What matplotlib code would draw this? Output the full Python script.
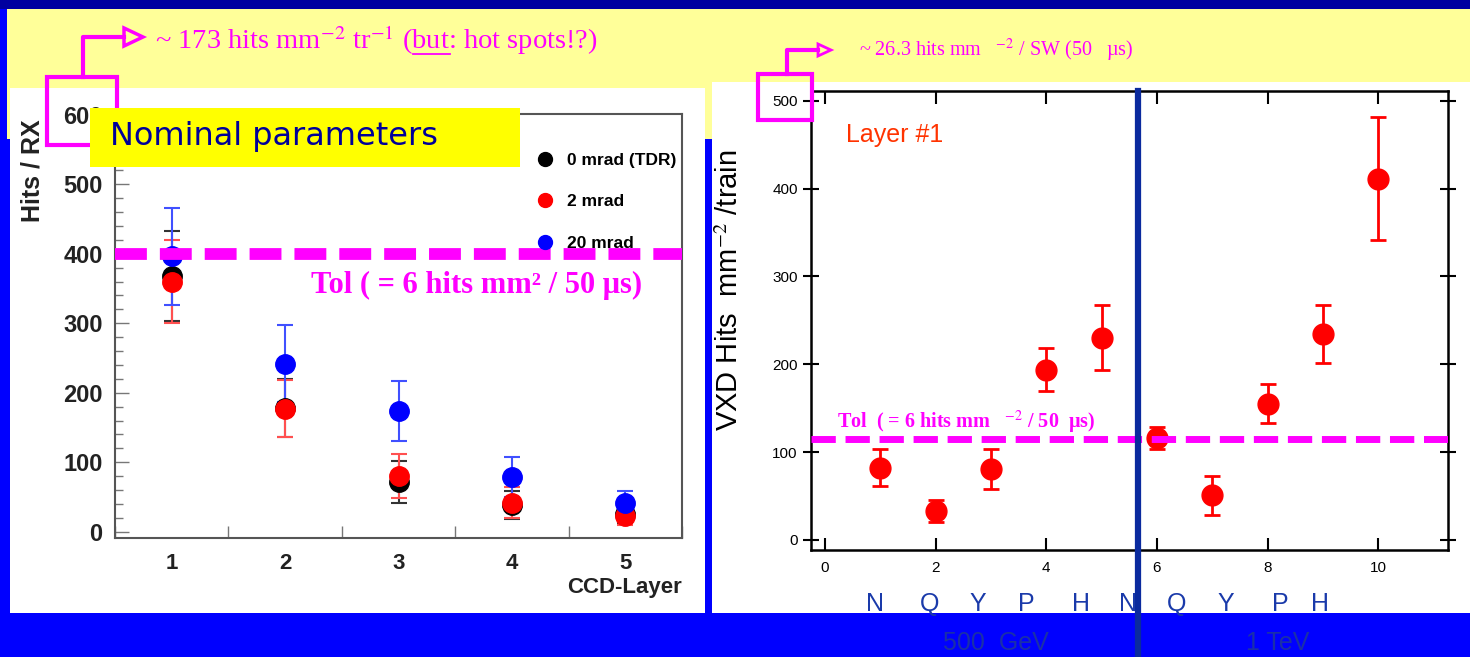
import matplotlib
matplotlib.use('Agg')
import matplotlib.pyplot as plt
from matplotlib.patches import Rectangle, Polygon
from matplotlib.lines import Line2D
from matplotlib.ticker import MultipleLocator

plt.rcParams['mathtext.fontset'] = 'stix'

# left chart: hits per readout vs CCD layer
ccd_layer = [1, 2, 3, 4, 5]
hits_0mrad = [368, 178, 72, 38, 26]
err_0mrad = [65, 42, 30, 20, 14]
hits_2mrad = [360, 177, 80, 42, 22]
err_2mrad = [60, 41, 32, 22, 13]
hits_20mrad = [396, 242, 174, 79, 42]
err_20mrad = [70, 55, 43, 29, 17]
series_labels = ['0 mrad (TDR)', '2 mrad', '20 mrad']
tol_left = 400

# right chart: layer 1 hits per train for the beam parameter sets
config_x = [1, 2, 3, 4, 5, 6, 7, 8, 9, 10]
vxd_hits = [82, 33, 81, 194, 230, 116, 51, 155, 234, 411]
vxd_err = [21, 13, 23, 24, 37, 13, 22, 22, 33, 70]
config_labels = ['N', 'Q', 'Y', 'P', 'H', 'N', 'Q', 'Y', 'P', 'H']
energy_labels = ['500  GeV', '1 TeV']
tol_right = 115
divider_x = 5.65

W, H = 1470, 657
MAG = '#FF00FF'
SANS = ['Liberation Sans', 'DejaVu Sans']
SERIF = ['Liberation Serif', 'DejaVu Serif']

fig = plt.figure(figsize=(14.7, 6.57), dpi=100, facecolor='#0000FF')


def rect(x, y, w, h, **kw):
    # figure rectangle given in pixels, y measured from the top
    fig.add_artist(Rectangle((x / W, 1 - (y + h) / H), w / W, h / H,
                             transform=fig.transFigure, **kw))


def ftext(x, y, s, **kw):
    return fig.text(x / W, 1 - y / H, s, **kw)


def fline(pts, **kw):
    fig.add_artist(Line2D([p[0] / W for p in pts], [1 - p[1] / H for p in pts],
                          transform=fig.transFigure, **kw))


# slide background
rect(0, 0, W, 9, facecolor='#0000A0', edgecolor='none', zorder=-2)
rect(7, 9, W - 7, 130, facecolor='#FFFF99', edgecolor='none', zorder=-2)
rect(10, 88, 695, 525, facecolor='white', edgecolor='none', zorder=-1)
rect(712, 82, W - 712, 531, facecolor='white', edgecolor='none', zorder=-1)

# ---------------- left chart ----------------
ax1 = fig.add_axes([115 / W, 1 - 538 / H, 567 / W, 424 / H])
ax1.set_facecolor('white')
ax1.errorbar(ccd_layer, hits_0mrad, yerr=err_0mrad, fmt='o', color='black', ms=14,
             ecolor='#333333', elinewidth=1.5, capsize=6, capthick=1.5, zorder=3)
ax1.errorbar(ccd_layer, hits_2mrad, yerr=err_2mrad, fmt='o', color='#FF0000', ms=14,
             ecolor='#FF5050', elinewidth=1.5, capsize=6, capthick=1.5, zorder=3)
ax1.errorbar(ccd_layer, hits_20mrad, yerr=err_20mrad, fmt='o', color='#0000FF', ms=14,
             ecolor='#4050FF', elinewidth=1.5, capsize=6, capthick=1.5, zorder=3)
ax1.axhline(tol_left, color=MAG, lw=8.5, dashes=(2.7, 1.1), zorder=4)
ax1.set_xlim(0.5, 5.5)
ax1.set_ylim(-9, 601)
ax1.set_xticks(ccd_layer)
ax1.xaxis.set_minor_locator(MultipleLocator(0.5))
ax1.yaxis.set_major_locator(MultipleLocator(100))
ax1.yaxis.set_minor_locator(MultipleLocator(20))
ax1.tick_params(axis='x', which='major', length=0, pad=11, labelsize=16)
ax1.tick_params(axis='x', which='minor', direction='in', length=9, width=1, color='#777777')
ax1.tick_params(axis='y', which='major', direction='in', length=10, width=1, color='#777777',
                pad=9, labelsize=17)
ax1.tick_params(axis='y', which='minor', direction='in', length=6, width=1, color='#777777')
for lab in ax1.get_xticklabels() + ax1.get_yticklabels():
    lab.set_fontweight('bold')
    lab.set_family(SANS)
    lab.set_color('#222222')
for sp in ax1.spines.values():
    sp.set_color('#555555')
    sp.set_linewidth(1.5)
ax1.set_xlabel('CCD-Layer', loc='right', fontsize=16, fontweight='bold', family=SANS,
               color='#222222', labelpad=2)
ax1.set_ylabel('Hits / RX', fontsize=18, fontweight='bold', family=SANS, color='#222222')
ax1.yaxis.set_label_coords(-0.125, 0.866)
handles = [Line2D([], [], ls='', marker='o', ms=10, color=c) for c in ['black', '#FF0000', '#0000FF']]
ax1.legend(handles, series_labels, loc='upper right', bbox_to_anchor=(1.0, 0.92), frameon=False,
           prop={'family': SANS, 'weight': 'bold', 'size': 12.5}, labelspacing=1.5,
           handlelength=1.0, handletextpad=0.8, borderpad=0, borderaxespad=0.3)
ax1.text(3.69, 355, 'Tol ( = 6 hits mm² / 50 μs)', ha='center', va='center', color=MAG,
         fontsize=22, fontweight='bold', family=SERIF, zorder=5)

# ---------------- right chart ----------------
ax2 = fig.add_axes([811 / W, 1 - 550 / H, 637 / W, 459 / H])
ax2.set_facecolor('white')
ax2.errorbar(config_x, vxd_hits, yerr=vxd_err, fmt='o', color='#FF0000', ms=15,
             elinewidth=2, capsize=6, capthick=2, zorder=3)
ax2.axhline(tol_right, color=MAG, lw=5, dashes=(3.5, 1.4), zorder=4)
ax2.axvline(divider_x, ymin=-0.24, ymax=1, clip_on=False, color='#0A2A9E', lw=4.5, zorder=5)
ax2.set_xlim(-0.25, 11.26)
ax2.set_ylim(-11.4, 511)
ax2.xaxis.set_major_locator(MultipleLocator(2))
ax2.yaxis.set_major_locator(MultipleLocator(100))
ax2.tick_params(axis='x', direction='in', length=9, width=1.5, top=True, pad=8, labelsize=11)
ax2.tick_params(axis='y', direction='inout', length=11, width=1.5, pad=4, labelsize=11)
ax2.tick_params(axis='y', which='major', right=True)
for lab in ax2.get_xticklabels() + ax2.get_yticklabels():
    lab.set_family(SANS)
for sp in ax2.spines.values():
    sp.set_linewidth(1.8)
ax2.set_ylabel('VXD Hits  mm$^{-2}$ /train', fontsize=21, family=SANS)
ax2.yaxis.set_label_coords(-0.105, 0.566)
ax2.text(0.055, 0.904, 'Layer #1', transform=ax2.transAxes, color='#FF3300', fontsize=18,
         family=SANS, va='center')
ax2.text(0.22, 134, 'Tol  ( = 6 hits mm   $^{-2}$ / 50  µs)', color=MAG, fontsize=14.5,
         fontweight='bold', family=SERIF, va='center')

# parameter-set names and energies under the right chart
letter_px = [875, 930, 978, 1026, 1081, 1128, 1177, 1226, 1280, 1320]
for px, name in zip(letter_px, config_labels):
    ftext(px, 604, name, color='#1A3AAA', fontsize=18, family=SANS, ha='center', va='center')
ftext(996, 643, energy_labels[0], color='#1A30A8', fontsize=18, family=SANS, ha='center', va='center')
ftext(1278, 643, energy_labels[1], color='#1A30A8', fontsize=18, family=SANS, ha='center', va='center')

# ---------------- slide annotations ----------------
rect(90, 108, 430, 59, facecolor='#FFFF00', edgecolor='none', zorder=6)
ftext(110, 137, 'Nominal parameters', color='#000099', fontsize=23, family=['DejaVu Sans'],
      va='center', zorder=7)

rect(47, 77, 70, 68, fill=False, edgecolor=MAG, lw=3, zorder=5)
fline([(83, 77), (83, 37), (124, 37)], color=MAG, lw=3, zorder=5)
fig.add_artist(Polygon([(124 / W, 1 - 28 / H), (143 / W, 1 - 37 / H), (124 / W, 1 - 46 / H)],
                       closed=True, fill=False, edgecolor=MAG, lw=2.5, transform=fig.transFigure, zorder=5))
pre = '~ 173 hits mm$^{-2}$ tr$^{-1}$ ('
top_left = ftext(155, 40, pre + 'but: hot spots!?)', color=MAG, fontsize=20.5,
                 family=SERIF, va='center', zorder=5)

# underline "but" using measured text extents
renderer = fig.canvas.get_renderer()
tmp = ftext(155, 40, pre, fontsize=20.5, family=SERIF, va='center')
x0 = tmp.get_window_extent(renderer).x1
tmp.set_text(pre + 'but')
x1 = tmp.get_window_extent(renderer).x1
tmp.remove()
fline([(x0, 54), (x1, 54)], color=MAG, lw=1.3, zorder=5)

rect(758, 74, 54, 46, fill=False, edgecolor=MAG, lw=3, zorder=5)
fline([(787, 74), (787, 50), (818, 50)], color=MAG, lw=3, zorder=5)
fig.add_artist(Polygon([(818 / W, 1 - 44 / H), (831 / W, 1 - 50 / H), (818 / W, 1 - 56 / H)],
                       closed=True, fill=False, edgecolor=MAG, lw=2, transform=fig.transFigure, zorder=5))
ftext(859, 50, '~ 26.3 hits mm   $^{-2}$ / SW (50   µs)', color=MAG, fontsize=14.5,
      family=SERIF, va='center', zorder=5)

fig.savefig('out.png', dpi=100, facecolor=fig.get_facecolor())
